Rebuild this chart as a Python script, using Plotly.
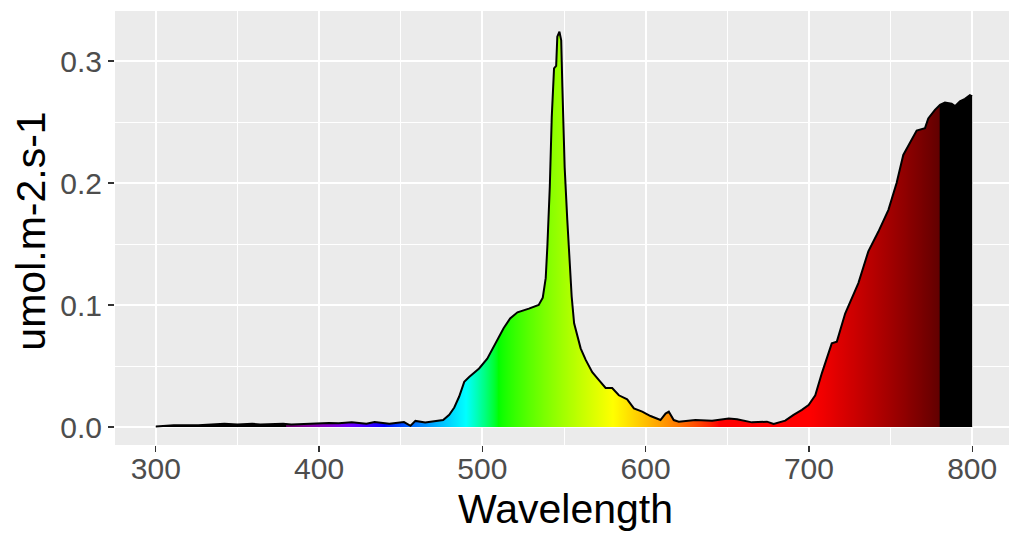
import plotly.graph_objects as go

# ---- data ----
wavelength = [300, 311, 326, 342, 350, 359, 364, 378, 383, 394, 406, 412, 420, 429, 434,
              443, 452, 456, 459, 465, 470, 476, 479.7, 482.8, 485.8, 488.9, 491.9, 498,
              503, 508, 513, 517, 521.5, 528.5, 534.5, 537, 538.8, 539.8, 541.3, 542.5,
              543.9, 545.2, 545.9, 547.2, 548.3, 549, 550.4, 552, 553.5, 554.7, 556.2,
              558, 560.2, 563.3, 567.3, 571.4, 575.5, 579.5, 583.6, 588.7, 592.8, 597.9,
              603, 609.1, 612.2, 614.2, 617.2, 620.3, 630.5, 640.7, 650.9, 656, 665.1,
              674.3, 678.4, 685.5, 690.6, 695.7, 699.8, 703.9, 707.9, 714, 717.1, 722.2,
              730.3, 736.4, 742.5, 748.7, 753.7, 757.8, 760.9, 766, 771.1, 773.1, 777.2,
              780.3, 783.3, 787.4, 789.5, 792.5, 795.6, 798.6, 800]
irradiance = [0.0005, 0.0014, 0.0014, 0.0027, 0.0020, 0.0027, 0.0020, 0.0027, 0.0020,
              0.0027, 0.0033, 0.0030, 0.0038, 0.0027, 0.0040, 0.0027, 0.0040, 0.0010,
              0.0050, 0.0036, 0.0045, 0.0058, 0.010, 0.016, 0.025, 0.037, 0.041, 0.048,
              0.056, 0.069, 0.081, 0.089, 0.094, 0.097, 0.100, 0.106, 0.122, 0.148, 0.197,
              0.254, 0.294, 0.296, 0.320, 0.324, 0.317, 0.279, 0.213, 0.170, 0.137, 0.107,
              0.085, 0.076, 0.0645, 0.055, 0.045, 0.0385, 0.032, 0.032, 0.026, 0.0227,
              0.0153, 0.0126, 0.009, 0.0057, 0.011, 0.0126, 0.0057, 0.0044, 0.0057, 0.0052,
              0.007, 0.0063, 0.0038, 0.0044, 0.0025, 0.0052, 0.010, 0.014, 0.018, 0.026,
              0.044, 0.0686, 0.070, 0.093, 0.118, 0.144, 0.160, 0.178, 0.200, 0.223, 0.231,
              0.243, 0.245, 0.253, 0.260, 0.264, 0.266, 0.265, 0.263, 0.267, 0.269, 0.272,
              0.271]

x_ticks = [300, 400, 500, 600, 700, 800]
y_ticks = [0.0, 0.1, 0.2, 0.3]
y_ticklabels = ["0.0", "0.1", "0.2", "0.3"]


# ---- wavelength -> colour (style only) ----
def wl_rgb(w, gamma=0.8):
    if w < 380 or w > 780:
        return (0, 0, 0)
    if w < 440:
        r, g, b = -(w - 440) / 60, 0.0, 1.0
    elif w < 490:
        r, g, b = 0.0, (w - 440) / 50, 1.0
    elif w < 510:
        r, g, b = 0.0, 1.0, -(w - 510) / 20
    elif w < 580:
        r, g, b = (w - 510) / 70, 1.0, 0.0
    elif w < 645:
        r, g, b = 1.0, -(w - 645) / 65, 0.0
    else:
        r, g, b = 1.0, 0.0, 0.0
    if w < 420:
        f = 0.3 + 0.7 * (w - 380) / 40
    elif w > 700:
        f = 0.3 + 0.7 * (780 - w) / 80
    else:
        f = 1.0
    return tuple(int(round(255 * (c * f) ** gamma)) if c > 0 else 0 for c in (r, g, b))


w0, w1 = 300, 800
stops = []
for w in range(w0, w1 + 1):
    if w in (380, 780):
        continue
    r, g, b = wl_rgb(w)
    stops.append([(w - w0) / (w1 - w0), f"rgb({r},{g},{b})"])
eps = 1e-4
for w, cb, ca in [(380, (0, 0, 0), wl_rgb(380)), (780, wl_rgb(780), (0, 0, 0))]:
    p = (w - w0) / (w1 - w0)
    stops.append([p - eps, "rgb(%d,%d,%d)" % cb])
    stops.append([p + eps, "rgb(%d,%d,%d)" % ca])
stops.sort(key=lambda s: s[0])

fig = go.Figure()
fig.add_trace(go.Scatter(
    x=wavelength, y=irradiance, mode="lines",
    line=dict(color="black", width=2),
    fill="tozeroy",
    fillgradient=dict(type="horizontal", colorscale=stops, start=w0, stop=w1),
    hoverinfo="skip", showlegend=False,
))

FONT = "Liberation Sans, Arial, sans-serif"
fig.update_layout(
    width=1013, height=537,
    margin=dict(l=115, r=0, t=11, b=92, autoexpand=False),
    paper_bgcolor="white", plot_bgcolor="#EBEBEB",
    font=dict(family=FONT),
    hovermode=False,
    xaxis=dict(
        range=[275, 825], tickvals=x_ticks, ticks="outside", ticklen=6, tickwidth=1.3,
        tickcolor="#333333", tickfont=dict(size=30, color="#4D4D4D", family=FONT),
        ticklabelstandoff=-9, automargin=False,
        showgrid=True, gridcolor="white", gridwidth=2, zeroline=False, showline=False,
        minor=dict(dtick=50, tick0=0, showgrid=True, gridcolor="white", gridwidth=1, ticklen=0),
    ),
    yaxis=dict(
        range=[-0.01475, 0.341], tickvals=y_ticks, ticktext=y_ticklabels, ticks="outside",
        ticklen=6, tickwidth=1.3, tickcolor="#333333", automargin=False,
        tickfont=dict(size=30, color="#4D4D4D", family=FONT),
        showgrid=True, gridcolor="white", gridwidth=2, zeroline=False, showline=False,
        minor=dict(dtick=0.05, tick0=0, showgrid=True, gridcolor="white", gridwidth=1, ticklen=0),
    ),
    annotations=[
        dict(text="Wavelength", xref="paper", yref="paper", x=0.502, y=-0.1486,
             xanchor="center", yanchor="middle", showarrow=False,
             font=dict(size=41, color="black", family=FONT)),
        dict(text="umol.m-2.s-1", xref="paper", yref="paper", x=-0.094, y=0.493,
             xanchor="center", yanchor="middle", textangle=-90, showarrow=False,
             font=dict(size=41, color="black", family=FONT)),
    ],
)

# remove the default page margin and scrollbars so the figure sits at the page origin
fig.write_html(
    "out.html",
    config={"displayModeBar": False, "staticPlot": True},
    post_script="document.body.style.margin='0';"
                "document.documentElement.style.overflow='hidden';"
                "document.body.style.overflow='hidden';",
)
